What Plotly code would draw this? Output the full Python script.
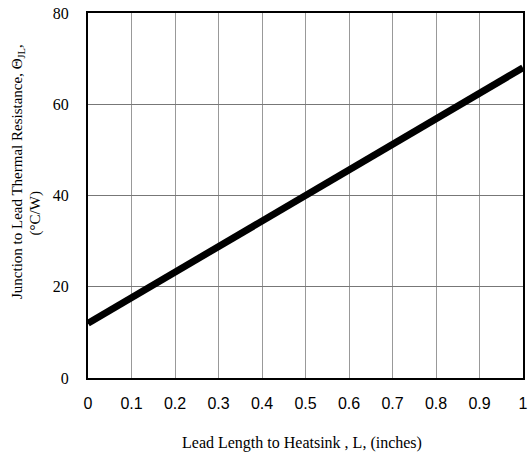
import plotly.graph_objects as go

lead_length = [0, 1]
theta_jl = [12, 68]
x_ticks = [0, 0.1, 0.2, 0.3, 0.4, 0.5, 0.6, 0.7, 0.8, 0.9, 1]
x_tick_text = ["0", "0.1", "0.2", "0.3", "0.4", "0.5", "0.6", "0.7", "0.8", "0.9", "1"]
y_ticks = [0, 20, 40, 60, 80]

serif = "Liberation Serif, Times New Roman, serif"
sans = "Liberation Sans, Arial, sans-serif"

fig = go.Figure()
fig.add_trace(go.Scatter(x=lead_length, y=theta_jl, mode="lines",
                         line=dict(color="black", width=7), showlegend=False))

fig.update_layout(
    width=531, height=457,
    margin=dict(l=88, r=3, t=13, b=79),
    paper_bgcolor="white", plot_bgcolor="white",
    xaxis=dict(range=[0, 1], tickvals=x_ticks, ticktext=x_tick_text,
               showgrid=True, gridcolor="#999999", gridwidth=1,
               showline=True, linecolor="black", linewidth=2, mirror=True,
               ticks="", zeroline=False, ticklabelstandoff=10,
               tickfont=dict(family=sans, size=16, color="black")),
    yaxis=dict(range=[0, 80], tickvals=y_ticks,
               showgrid=True, gridcolor="#777777", gridwidth=1,
               showline=True, linecolor="black", linewidth=2, mirror=True,
               ticks="", zeroline=False, ticklabelstandoff=14,
               tickfont=dict(family=serif, size=16, color="black")),
    annotations=[
        dict(text="Junction to Lead Thermal Resistance, Θ<sub>JL</sub>,",
             xref="paper", yref="paper", x=-0.161, y=0.567,
             xanchor="center", yanchor="middle", textangle=-90, showarrow=False,
             font=dict(family=serif, size=15, color="black")),
        dict(text="(°C/W)",
             xref="paper", yref="paper", x=-0.121, y=0.452,
             xanchor="center", yanchor="middle", textangle=-90, showarrow=False,
             font=dict(family=serif, size=15, color="black")),
        dict(text="Lead Length to Heatsink , L, (inches)",
             xref="paper", yref="paper", x=0.491, y=-0.178,
             xanchor="center", yanchor="middle", showarrow=False,
             font=dict(family=serif, size=16, color="black")),
    ],
)

fig.write_html("out.html")
